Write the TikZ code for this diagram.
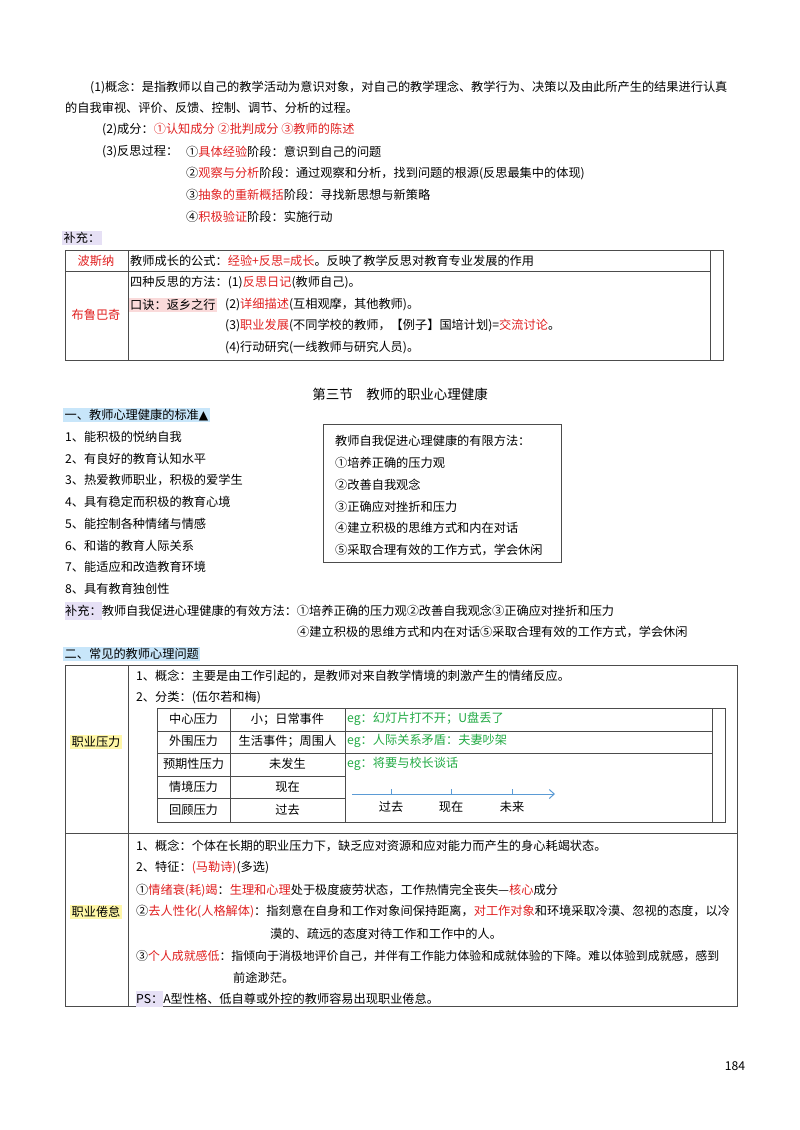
\documentclass[tikz,border=0pt]{standalone}
\usepackage{fontspec}
\setmainfont{Noto Sans CJK SC}
\usepackage{tikz}
\usetikzlibrary{arrows.meta}
\definecolor{hl}{HTML}{E02020}
\definecolor{eg}{HTML}{22AA44}
\definecolor{lav}{HTML}{E6E0F5}
\definecolor{sky}{HTML}{C8E6FA}
\definecolor{lem}{HTML}{FFF7A8}
\definecolor{pnk}{HTML}{FADADA}
\definecolor{arr}{HTML}{5B9BD5}
\newcommand{\rd}[1]{\textcolor{hl}{#1}}
\newcommand{\gr}[1]{\textcolor{eg}{#1}}
\tikzset{
  txt/.style={anchor=west,inner sep=0pt,font=\fontsize{12.2}{14}\selectfont},
  tag/.style={txt,inner sep=1.5pt,fill=#1},
  cell/.style={inner sep=0pt,font=\fontsize{12.2}{14}\selectfont},
  rule/.style={draw=black!70,line width=0.6pt}
}
\begin{document}
\begin{tikzpicture}[x=1pt,y=-1pt]
\useasboundingbox (0,0) rectangle (800,1130);
% reflection
\node[txt] (c1) at (90,87) {(1)概念：是指教师以自己的教学活动为意识对象，对自己的教学理念、教学行为、决策以及由此所产生的结果进行认真};
\node[txt] (c2) at (65,108) {的自我审视、评价、反馈、控制、调节、分析的过程。};
\node[txt] (c3) at (102,130) {(2)成分：\rd{①认知成分 ②批判成分 ③教师的陈述}};
\node[txt] (c4) at (102,152) {(3)反思过程：};
\node[txt] (s1) at (186,152) {①\rd{具体经验}阶段：意识到自己的问题};
\node[txt] (s2) at (186,174) {②\rd{观察与分析}阶段：通过观察和分析，找到问题的根源(反思最集中的体现)};
\node[txt] (s3) at (186,195) {③\rd{抽象的重新概括}阶段：寻找新思想与新策略};
\node[txt] (s4) at (186,217) {④\rd{积极验证}阶段：实施行动};
\node[tag=lav] (bc1) at (62,238) {补充：};
% table one
\draw[rule] (65,250) rectangle (723,360);
\draw[rule] (65,271) -- (710,271);
\draw[rule] (128,250) -- (128,360);
\draw[rule] (710,250) -- (710,360);
\node[cell] (bsn) at (96,261) {\rd{波斯纳}};
\node[cell] (blbq) at (96,315) {\rd{布鲁巴奇}};
\node[txt] (t1) at (130,261) {教师成长的公式：\rd{经验+反思=成长}。反映了教学反思对教育专业发展的作用};
\node[txt] (t2) at (130,283) {四种反思的方法：(1)\rd{反思日记}(教师自己)。};
\node[tag=pnk] (kj) at (128.5,305) {口诀：返乡之行};
\node[txt] (t3) at (225,305) {(2)\rd{详细描述}(互相观摩，其他教师)。};
\node[txt] (t4) at (225,326) {(3)\rd{职业发展}(不同学校的教师，【例子】国培计划)=\rd{交流讨论}。};
\node[txt] (t5) at (225,348) {(4)行动研究(一线教师与研究人员)。};
% section
\node[cell,font=\fontsize{13.5}{15}\selectfont] (sec) at (400,394) {第三节\quad 教师的职业心理健康};
\node[tag=sky] (h1) at (63,415) {一、教师心理健康的标准{\fontspec{DejaVu Sans}▲}};
\foreach \t [count=\i] in {能积极的悦纳自我,有良好的教育认知水平,热爱教师职业，积极的爱学生,具有稳定而积极的教育心境,能控制各种情绪与情感,和谐的教育人际关系,能适应和改造教育环境,具有教育独创性}
  \node[txt] (std\i) at (65,{437+21.7*(\i-1)}) {\i、\t};
\draw[rule] (323,424) rectangle (561,562);
\node[txt] (bx0) at (335,441) {教师自我促进心理健康的有限方法：};
\foreach \t [count=\i] in {①培养正确的压力观,②改善自我观念,③正确应对挫折和压力,④建立积极的思维方式和内在对话,⑤采取合理有效的工作方式，学会休闲}
  \node[txt] (bx\i) at (335,{441+21.8*\i}) {\t};
\node[txt] (bc2) at (65,611) {\colorbox{lav}{\hspace{-3pt}补充：\hspace{-3pt}}教师自我促进心理健康的有效方法：①培养正确的压力观②改善自我观念③正确应对挫折和压力};
\node[txt] (bc3) at (297,632) {④建立积极的思维方式和内在对话⑤采取合理有效的工作方式，学会休闲};
\node[tag=sky] (h2) at (63,654) {二、常见的教师心理问题};
% table two
\draw[rule] (65,665) rectangle (737,1006);
\draw[rule] (65,833) -- (737,833);
\draw[rule] (128,665) -- (128,1006);
\node[cell,fill=lem,inner sep=1.5pt] (zyyl) at (96,742) {职业压力};
\node[txt] (p1) at (136,676) {1、概念：主要是由工作引起的，是教师对来自教学情境的刺激产生的情绪反应。};
\node[txt] (p2) at (136,698) {2、分类：(伍尔若和梅)};
\draw[rule] (157,708) rectangle (725,822);
\draw[rule] (712,708) -- (712,822);
\draw[rule] (230,708) -- (230,822);
\draw[rule] (345,708) -- (345,822);
\draw[rule] (157,731) -- (712,731);
\draw[rule] (157,753) -- (712,753);
\draw[rule] (157,776) -- (345,776);
\draw[rule] (157,798) -- (345,798);
\foreach \a/\b/\y [count=\i] in {中心压力/小；日常事件/719,外围压力/生活事件；周围人/741,预期性压力/未发生/764,情境压力/现在/787,回顾压力/过去/810}{
  \node[cell] (ty\i) at (193.5,\y) {\a};
  \node[cell] (tz\i) at (287.5,\y) {\b};
}
\node[txt] (eg1) at (347,719) {\gr{eg：幻灯片打不开；U盘丢了}};
\node[txt] (eg2) at (347,741) {\gr{eg：人际关系矛盾：夫妻吵架}};
\node[txt] (eg3) at (347,764) {\gr{eg：将要与校长谈话}};
\coordinate (ta) at (352,794);
\coordinate (tb) at (555,794);
\draw[arr,line width=1pt,-{Straight Barb[length=5pt,width=9pt]}] (ta) -- (tb);
\foreach \x/\t [count=\i] in {391/过去,451/现在,512/未来}{
  \draw[arr,line width=0.8pt] (\x,794) -- (\x,789);
  \node[cell] (tl\i) at (\x,807) {\t};
}
\node[cell,fill=lem,inner sep=1.5pt] (zyjd) at (96,912) {职业倦怠};
\node[txt] (q1) at (136,846) {1、概念：个体在长期的职业压力下，缺乏应对资源和应对能力而产生的身心耗竭状态。};
\node[txt] (q2) at (136,868) {2、特征：\rd{(马勒诗)}(多选)};
\node[txt] (q3) at (136,890) {①\rd{情绪衰(耗)竭}：\rd{生理和心理}处于极度疲劳状态，工作热情完全丧失—\rd{核心}成分};
\node[txt] (q4) at (136,912) {②\rd{去人性化(人格解体)}：指刻意在自身和工作对象间保持距离，\rd{对工作对象}和环境采取冷漠、忽视的态度，以冷};
\node[txt] (q5) at (270,934) {漠的、疏远的态度对待工作和工作中的人。};
\node[txt,font=\fontsize{11.9}{14}\selectfont] (q6) at (136,956) {③\rd{个人成就感低}：指倾向于消极地评价自己，并伴有工作能力体验和成就体验的下降。难以体验到成就感，感到};
\node[txt] (q7) at (233,978) {前途渺茫。};
\node[txt] (q8) at (136,999) {\colorbox{lav}{\hspace{-3pt}PS：\hspace{-3pt}}A型性格、低自尊或外控的教师容易出现职业倦怠。};
\node[cell] (pg) at (735,1066) {184};
\end{tikzpicture}
\end{document}
